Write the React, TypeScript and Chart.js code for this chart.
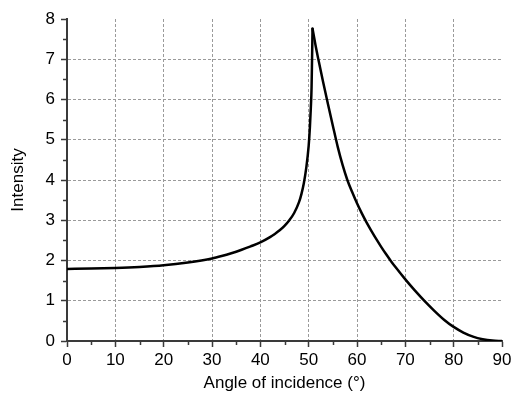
import React, { useEffect, useRef } from "react";
import { Chart, registerables } from "chart.js";

Chart.register(...registerables);

// Rising branch up to the peak
const risingAngles = [0, 5, 10, 15, 20, 25, 30, 32, 34, 36, 38, 40, 42, 43, 44, 45, 46, 47, 48, 48.5, 49, 49.5, 50, 50.25, 50.45, 50.6, 50.7, 50.8];
const risingIntensity = [1.79, 1.8, 1.815, 1.84, 1.88, 1.95, 2.05, 2.11, 2.18, 2.26, 2.35, 2.45, 2.58, 2.66, 2.75, 2.86, 3.0, 3.18, 3.45, 3.65, 3.92, 4.3, 4.85, 5.3, 5.8, 6.3, 7.0, 7.76];

// Falling branch from the peak to grazing incidence
const fallingAngles = [50.8, 51.4, 52, 53, 54, 55, 56, 57, 58, 59, 60, 61, 62, 63, 64, 65, 66, 67, 68, 70, 72, 74, 76, 78, 80, 82, 84, 86, 88, 90];
const fallingIntensity = [7.76, 7.36, 7.0, 6.43, 5.88, 5.35, 4.83, 4.38, 4.0, 3.7, 3.42, 3.17, 2.94, 2.73, 2.53, 2.34, 2.16, 1.99, 1.83, 1.53, 1.25, 0.99, 0.75, 0.53, 0.35, 0.21, 0.11, 0.045, 0.01, 0];

// Axis ranges and minor tick positions
const xRange = [0, 90];
const yRange = [0, 8];
const xMinorTicks = [5, 15, 25, 35, 45, 55, 65, 75, 85];
const yMinorTicks = [0.5, 1.5, 2.5, 3.5, 4.5, 5.5, 6.5, 7.5];

const FONT = "'Liberation Sans', Arial, Helvetica, sans-serif";
const AXIS_COLOR = "#3a3a3a";
const GRID_COLOR = "#9a9a9a";

const toPoints = (xs: number[], ys: number[]) => xs.map((x, i) => ({ x, y: ys[i] }));

const minorTickPlugin = {
  id: "minorTicks",
  afterDraw(chart: any) {
    const { ctx, scales } = chart;
    const xs = scales.x;
    const ys = scales.y;
    ctx.save();
    ctx.strokeStyle = AXIS_COLOR;
    ctx.lineWidth = 1.5;
    ctx.beginPath();
    for (const v of xMinorTicks) {
      const px = Math.round(xs.getPixelForValue(v)) + 0.5;
      ctx.moveTo(px, xs.top);
      ctx.lineTo(px, xs.top + 4);
    }
    for (const v of yMinorTicks) {
      const py = Math.round(ys.getPixelForValue(v)) + 0.5;
      ctx.moveTo(ys.right - 4, py);
      ctx.lineTo(ys.right, py);
    }
    ctx.stroke();
    ctx.restore();
  },
};

export default function App() {
  const canvasRef = useRef<HTMLCanvasElement | null>(null);

  useEffect(() => {
    document.body.style.margin = "0";
    const canvas = canvasRef.current;
    if (!canvas) return;

    const lineStyle = {
      borderColor: "#000",
      borderWidth: 2.5,
      pointRadius: 0,
      fill: false,
      cubicInterpolationMode: "monotone" as const,
      borderCapStyle: "round" as const,
      borderJoinStyle: "round" as const,
    };

    const chart = new Chart(canvas, {
      type: "line",
      data: {
        datasets: [
          { label: "rising", data: toPoints(risingAngles, risingIntensity), ...lineStyle },
          { label: "falling", data: toPoints(fallingAngles, fallingIntensity), ...lineStyle },
        ],
      },
      options: {
        animation: false,
        responsive: true,
        maintainAspectRatio: false,
        layout: { padding: { left: 0, right: 17, top: 19, bottom: 0 } },
        plugins: { legend: { display: false }, tooltip: { enabled: false } },
        scales: {
          x: {
            type: "linear",
            min: xRange[0],
            max: xRange[1],
            afterFit: (s: any) => {
              s.height = 56;
            },
            ticks: {
              stepSize: 10,
              color: "#000",
              padding: 3,
              font: { family: FONT, size: 17 },
            },
            grid: {
              color: (c: any) =>
                c.tick && c.tick.value > xRange[0] && c.tick.value < xRange[1] ? GRID_COLOR : "rgba(0,0,0,0)",
              lineWidth: 1,
              tickLength: 6,
              tickColor: AXIS_COLOR,
              tickWidth: 1.5,
            },
            border: { display: true, color: AXIS_COLOR, width: 2, dash: [3, 2] },
            title: {
              display: true,
              text: "Angle of incidence (°)",
              color: "#000",
              font: { family: FONT, size: 17 },
              padding: { top: 0, bottom: 3 },
            },
          },
          y: {
            type: "linear",
            min: yRange[0],
            max: yRange[1],
            afterFit: (s: any) => {
              s.width = 67;
            },
            ticks: {
              stepSize: 1,
              color: "#000",
              padding: 6,
              font: { family: FONT, size: 17 },
            },
            grid: {
              color: (c: any) =>
                c.tick && c.tick.value > yRange[0] && c.tick.value < yRange[1] ? GRID_COLOR : "rgba(0,0,0,0)",
              lineWidth: 1,
              tickLength: 6,
              tickColor: AXIS_COLOR,
              tickWidth: 1.5,
            },
            border: { display: true, color: AXIS_COLOR, width: 2, dash: [3, 2] },
            title: {
              display: true,
              text: "Intensity",
              color: "#000",
              font: { family: FONT, size: 17 },
              padding: { top: 8, bottom: 0 },
            },
          },
        },
      },
      plugins: [minorTickPlugin],
    });

    return () => chart.destroy();
  }, []);

  return (
    <div style={{ position: "absolute", left: 0, top: 0, width: 519, height: 397 }}>
      <canvas ref={canvasRef} />
    </div>
  );
}
